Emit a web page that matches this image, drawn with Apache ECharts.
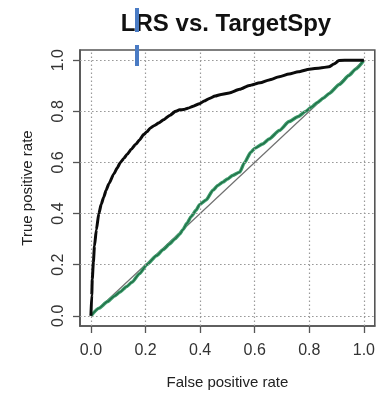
<!DOCTYPE html>
<html>
<head>
<meta charset="utf-8">
<style>
  html, body { margin: 0; padding: 0; background: #fff; }
  #chart { width: 378px; height: 395px; }
</style>
<script src="https://cdn.jsdelivr.net/npm/echarts@6/dist/echarts.min.js"></script>
</head>
<body>
<div id="chart"></div>
<script>
// ROC curve: LRS (black)
const lrsFpr = [0, 0.003, 0.005, 0.009, 0.013, 0.02, 0.029, 0.038, 0.047, 0.056, 0.066, 0.084, 0.096, 0.108, 0.12, 0.133, 0.148, 0.163, 0.178, 0.193, 0.205, 0.218, 0.233, 0.248, 0.266, 0.29, 0.31, 0.325, 0.34, 0.355, 0.375, 0.398, 0.415, 0.434, 0.455, 0.477, 0.507, 0.545, 0.58, 0.62, 0.653, 0.69, 0.726, 0.76, 0.8, 0.84, 0.872, 0.89, 0.909, 0.95, 1.0];
const lrsTpr = [0, 0.08, 0.144, 0.21, 0.273, 0.337, 0.4, 0.437, 0.465, 0.492, 0.517, 0.555, 0.578, 0.6, 0.615, 0.632, 0.652, 0.67, 0.688, 0.709, 0.72, 0.735, 0.745, 0.754, 0.767, 0.785, 0.8, 0.806, 0.807, 0.812, 0.82, 0.83, 0.84, 0.85, 0.86, 0.866, 0.872, 0.886, 0.901, 0.912, 0.923, 0.935, 0.946, 0.955, 0.965, 0.97, 0.974, 0.985, 0.999, 1.0, 1.0];

// ROC curve: TargetSpy (green)
const spyFpr = [0, 0.03, 0.06, 0.085, 0.108, 0.13, 0.151, 0.178, 0.205, 0.24, 0.266, 0.287, 0.307, 0.325, 0.337, 0.352, 0.367, 0.386, 0.398, 0.422, 0.447, 0.465, 0.483, 0.5, 0.519, 0.545, 0.562, 0.586, 0.6, 0.629, 0.653, 0.69, 0.726, 0.76, 0.787, 0.81, 0.83, 0.852, 0.872, 0.91, 0.945, 0.97, 1.0];
const spyTpr = [0, 0.03, 0.055, 0.076, 0.094, 0.114, 0.132, 0.165, 0.2, 0.235, 0.26, 0.28, 0.3, 0.319, 0.337, 0.362, 0.388, 0.414, 0.435, 0.453, 0.491, 0.51, 0.523, 0.535, 0.549, 0.562, 0.598, 0.64, 0.655, 0.672, 0.692, 0.725, 0.76, 0.78, 0.8, 0.818, 0.835, 0.852, 0.869, 0.905, 0.94, 0.965, 1.0];

// Chance diagonal
const chanceLine = [[0, 0], [1, 1]];

// Tick positions shared by both axes
const tickValues = [0, 0.2, 0.4, 0.6, 0.8, 1.0];

const pairs = (xs, ys) => xs.map((x, i) => [x, ys[i]]);

const FONT = 'Liberation Sans, Arial, Helvetica, sans-serif';

const chart = echarts.init(document.getElementById('chart'), null, { renderer: 'canvas' });

const dotted = { color: '#9a9a9a', width: 1.2, type: [1.6, 2.4] };

const axisCommon = {
  type: 'value',
  min: -0.04,
  max: 1.04,
  axisLine: { show: true, onZero: false, lineStyle: { color: '#555', width: 1.6 } },
  splitLine: { show: false },
  axisTick: {
    show: true,
    inside: false,
    length: 7,
    customValues: tickValues,
    lineStyle: { color: '#555', width: 1.3 }
  },
  axisLabel: {
    customValues: tickValues,
    formatter: v => v.toFixed(1),
    fontFamily: FONT,
    fontSize: 16,
    color: '#333'
  },
  nameLocation: 'middle',
  nameTextStyle: { fontFamily: FONT, fontSize: 15, color: '#222' }
};

chart.setOption({
  animation: false,
  backgroundColor: '#ffffff',
  title: {
    text: 'LRS vs. TargetSpy',
    left: 226,
    top: 12,
    padding: 0,
    textAlign: 'center',
    textStyle: { fontFamily: FONT, fontWeight: 'bold', fontSize: 24, color: '#111' }
  },
  grid: {
    left: 80, right: 2, top: 50, bottom: 64,
    show: true,
    borderColor: '#555',
    borderWidth: 1.6,
    backgroundColor: 'transparent'
  },
  xAxis: Object.assign({}, axisCommon, {
    name: 'False positive rate',
    nameGap: 49,
    axisLabel: Object.assign({}, axisCommon.axisLabel, { margin: 17 })
  }),
  yAxis: Object.assign({}, axisCommon, {
    name: 'True positive rate',
    nameGap: 45,
    axisLabel: Object.assign({}, axisCommon.axisLabel, { margin: 13, rotate: 90 })
  }),
  series: [
    {
      name: 'chance',
      type: 'line',
      data: chanceLine,
      showSymbol: false,
      lineStyle: { color: '#707070', width: 1.2 },
      z: 2,
      markLine: {
        silent: true,
        symbol: ['none', 'none'],
        label: { show: false },
        lineStyle: dotted,
        data: tickValues.map(v => ({ xAxis: v })).concat(tickValues.map(v => ({ yAxis: v })))
      }
    },
    {
      name: 'TargetSpy',
      type: 'line',
      data: pairs(spyFpr, spyTpr),
      showSymbol: false,
      smooth: 0.2,
      smoothMonotone: 'x',
      lineStyle: { color: '#3d9e6c', width: 3.4 },
      z: 3
    },
    {
      name: 'TargetSpy core',
      type: 'line',
      data: pairs(spyFpr, spyTpr),
      showSymbol: false,
      smooth: 0.2,
      smoothMonotone: 'x',
      lineStyle: { color: '#1f6a45', width: 1.2 },
      z: 4
    },
    {
      name: 'LRS',
      type: 'line',
      data: pairs(lrsFpr, lrsTpr),
      showSymbol: false,
      smooth: 0.2,
      smoothMonotone: 'x',
      lineStyle: { color: '#0b0b0b', width: 3 },
      z: 5
    }
  ],
  graphic: [
    // text-cursor marker drawn over the title and top edge
    { type: 'rect', shape: { x: 135, y: 8, width: 4, height: 24 }, style: { fill: '#4a7bc4' }, z: 100 },
    { type: 'rect', shape: { x: 135, y: 45, width: 4, height: 21 }, style: { fill: '#4a7bc4' }, z: 100 }
  ]
});
</script>
</body>
</html>
